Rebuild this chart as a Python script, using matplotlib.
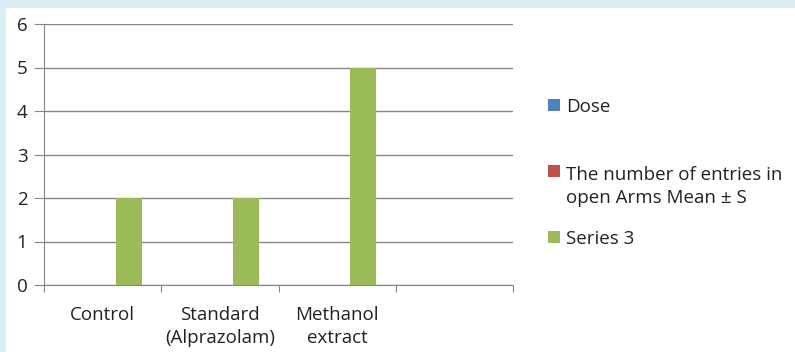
import matplotlib.pyplot as plt
from matplotlib.patches import Rectangle
import numpy as np

# data
categories = ['Control', 'Standard\n(Alprazolam)', 'Methanol\nextract', '']
series_names = ['Dose', 'The number of entries in\nopen Arms Mean \u00b1 S', 'Series 3']
dose = [np.nan, np.nan, np.nan, np.nan]
entries = [np.nan, np.nan, np.nan, np.nan]
series3 = [2, 2, 5, np.nan]
colors = ['#4F81BD', '#C0504D', '#9BBB59']

plt.rcParams['font.family'] = ['Open Sans', 'DejaVu Sans']
W, H = 795, 352
fig = plt.figure(figsize=(W / 100, H / 100), dpi=100)
fig.patch.set_facecolor('#DAEEF3')
fig.patches.append(Rectangle((6 / W, 0), 1, 1 - 8 / H, transform=fig.transFigure,
                             facecolor='white', edgecolor='none', zorder=-5))

ax = fig.add_axes([44 / W, (H - 285) / H, (513 - 44) / W, (285 - 24) / H])
ax.set_facecolor('none')

x = np.arange(len(categories))
w = 1 / 4.5
for i, vals in enumerate([dose, entries, series3]):
    ax.bar(x + (i - 1) * w, vals, width=w, color=colors[i], zorder=3)

ax.set_xlim(-0.5, len(categories) - 0.5)
ax.set_ylim(0, 6)
ax.set_yticks(range(0, 7))
ax.yaxis.grid(True, color='#868686', linewidth=1)
ax.set_axisbelow(True)
for s in ['top', 'right']:
    ax.spines[s].set_visible(False)
for s in ['left', 'bottom']:
    ax.spines[s].set_color('#868686')
ax.set_xticks(np.arange(len(categories) + 1) - 0.5)
ax.set_xticklabels([])
ax.set_xticks(x, minor=True)
ax.set_xticklabels(categories, minor=True, fontsize=13.5, color='#222222')
ax.tick_params(axis='x', which='major', length=5, color='#868686', direction='out')
ax.tick_params(axis='x', which='minor', length=0, pad=15)
ax.tick_params(axis='y', length=7, color='#868686', labelsize=13.5, labelcolor='#222222', pad=5)
for lab in ax.get_xticklabels(minor=True):
    lab.set_linespacing(1.35)

# legend drawn by hand to follow the original layout
mark_y = [104.5, 171, 237]
text_base = [112, 203, 244]
for name, c, my, tb in zip(series_names, colors, mark_y, text_base):
    fig.patches.append(Rectangle((548 / W, 1 - (my + 6) / H), 12 / W, 12 / H,
                                 transform=fig.transFigure, facecolor=c, edgecolor='none'))
    fig.text(566 / W, 1 - tb / H, name, fontsize=13.5, color='#222222',
             va='baseline', ha='left', linespacing=1.35)

fig.savefig('out.png', dpi=100)
